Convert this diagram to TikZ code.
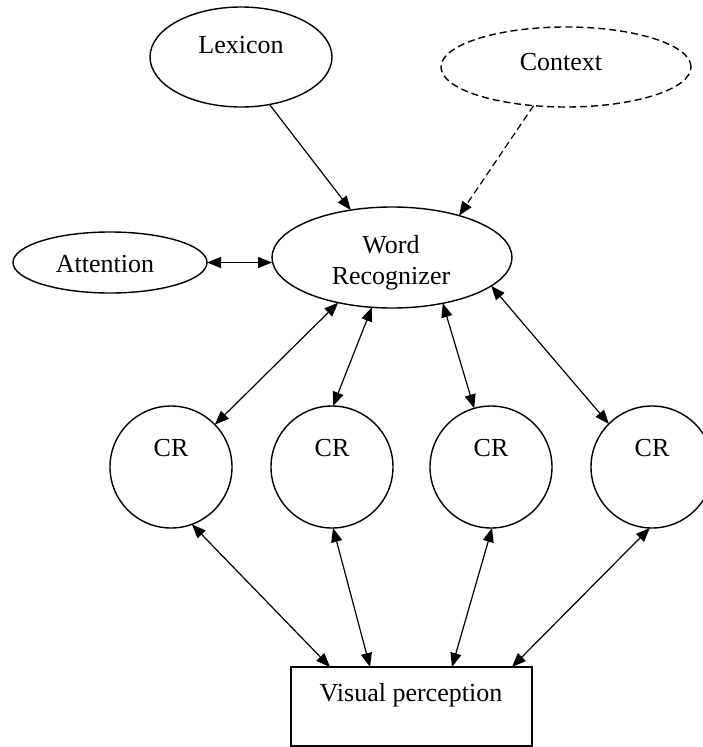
\documentclass[tikz,border=0pt]{standalone}
\usepackage{fontspec}
\setmainfont{Liberation Serif}
\usetikzlibrary{shapes.geometric,arrows.meta,calc}
\begin{document}
\begin{tikzpicture}[x=1pt,y=-1pt,
  shp/.style={draw, line width=1.4pt, inner sep=0pt, outer sep=0pt},
  ell/.style={shp, ellipse},
  lbl/.style={font=\fontsize{26}{30}\selectfont, anchor=base, inner sep=0pt},
  con/.style={line width=1.2pt, {Triangle[length=14pt,width=11pt]}-{Triangle[length=14pt,width=11pt]}},
  one/.style={line width=1.2pt, -{Triangle[length=14pt,width=11pt]}},
  dsh/.style={dash pattern=on 7pt off 4pt}
]
\useasboundingbox (0,0) rectangle (702,747);
% shapes
\node[ell, minimum width=182pt, minimum height=100pt] (lex) at (241,57) {};
\node[ell, dsh, minimum width=250pt, minimum height=80pt] (ctx) at (566,67) {};
\node[ell, minimum width=240pt, minimum height=101pt] (wr) at (392,257.5) {};
\node[ell, minimum width=194pt, minimum height=61pt] (att) at (110,262.5) {};
\node[shp, circle, minimum size=122pt] (cr1) at (171,467) {};
\node[shp, circle, minimum size=122pt] (cr2) at (332,467) {};
\node[shp, circle, minimum size=122pt] (cr3) at (491,467) {};
\node[shp, circle, minimum size=122pt] (cr4) at (652,467) {};
\node[shp, rectangle, minimum width=241pt, minimum height=79pt] (vp) at (411.5,706.5) {};
% labels
\node[lbl] (lexT) at (241,53) {Lexicon};
\node[lbl] (ctxT) at (561,70.5) {Context};
\node[lbl] (attT) at (105,272.5) {Attention};
\node[lbl] (wrT1) at (391,253.5) {Word};
\node[lbl] (wrT2) at (391,284.5) {Recognizer};
\node[lbl] (cr1T) at (171,456) {CR};
\node[lbl] (cr2T) at (332,456) {CR};
\node[lbl] (cr3T) at (491,456) {CR};
\node[lbl] (cr4T) at (652,456) {CR};
\node[lbl] (vpT) at (411,701.5) {Visual perception};
% points on the box top
\coordinate (p1) at ($(vp.north west)!0.162!(vp.north east)$);
\coordinate (p2) at ($(vp.north west)!0.328!(vp.north east)$);
\coordinate (p3) at ($(vp.north west)!0.668!(vp.north east)$);
\coordinate (p4) at ($(vp.north west)!0.917!(vp.north east)$);
% connectors
\draw[one] (lex.-59) -- (wr.131);
\draw[one, dsh] (ctx.230) -- (wr.32.5);
\draw[con] (att.east) -- (att.east -| wr.west);
\draw[con] (wr.-140.6) -- (cr1.44);
\draw[con] (wr.-112.4) -- (cr2.89);
\draw[con] (wr.-42.8) -- (cr3.106.4);
\draw[con] (wr.-16.5) -- (cr4.135.7);
\draw[con] (cr1.-70) -- (p1);
\draw[con] (cr2.-89) -- (p2);
\draw[con] (cr3.-89) -- (p3);
\draw[con] (cr4.-92) -- (p4);
\end{tikzpicture}
\end{document}
